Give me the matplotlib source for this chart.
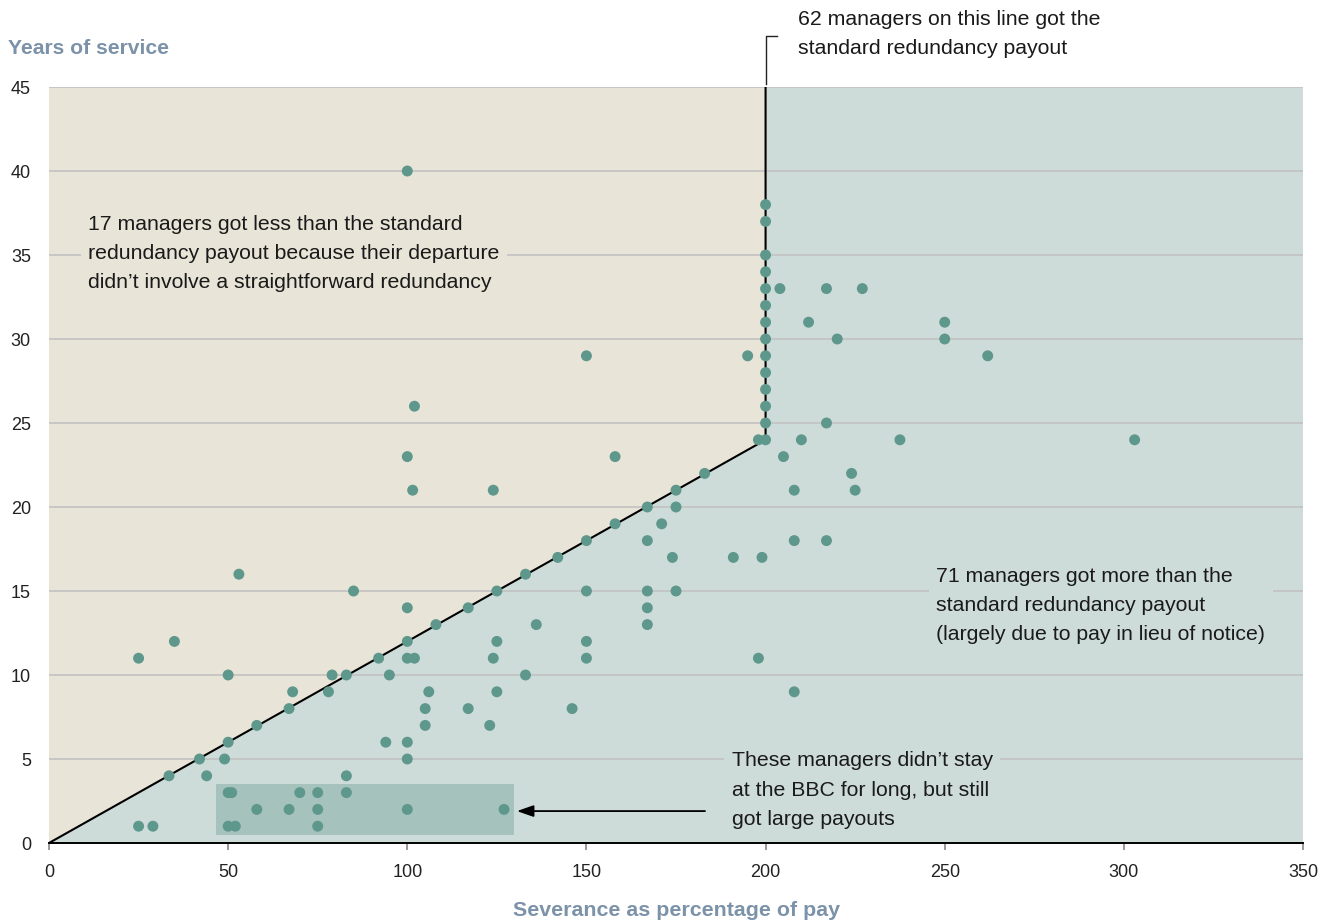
import matplotlib
matplotlib.use("Agg")
import matplotlib.pyplot as plt
from matplotlib.patches import Polygon, Rectangle

plt.rcParams['font.family'] = ['Liberation Sans', 'DejaVu Sans']

# ---- data ----
severance_pct = [
    100, 53, 85, 35, 25, 50, 100, 101.5, 102, 150, 158, 124, 195, 198, 68, 79, 100,
    200, 200, 200, 200, 200, 200, 200, 200, 200, 200, 200, 200, 200, 200,
    33.5, 42, 50, 58, 67, 83, 92, 100, 108, 117, 125, 133, 142, 150, 158, 167, 175, 183,
    25, 29, 50, 52, 75, 58, 67, 75, 100, 127, 50, 51, 70, 75, 83, 44, 83, 49, 100,
    94, 100, 105, 123, 105, 117, 146, 78, 106, 125, 208, 95, 133,
    100, 102, 124, 150, 198, 125, 150, 136, 167, 167, 150, 167, 175,
    174, 191, 199, 167, 208, 217, 171, 175, 208, 225, 224, 205,
    210, 237.5, 303, 217, 220, 250, 212, 250, 204, 217, 227, 262,
]
years_service = [
    40, 16, 15, 12, 11, 10, 23, 21, 26, 29, 23, 21, 29, 24, 9, 10, 14,
    38, 37, 35, 34, 33, 32, 31, 30, 29, 28, 27, 26, 25, 24,
    4, 5, 6, 7, 8, 10, 11, 12, 13, 14, 15, 16, 17, 18, 19, 20, 21, 22,
    1, 1, 1, 1, 1, 2, 2, 2, 2, 2, 3, 3, 3, 3, 3, 4, 4, 5, 5,
    6, 6, 7, 7, 8, 8, 8, 9, 9, 9, 9, 10, 10,
    11, 11, 11, 11, 11, 12, 12, 13, 13, 14, 15, 15, 15,
    17, 17, 17, 18, 18, 18, 19, 20, 21, 21, 22, 23,
    24, 24, 24, 25, 30, 30, 31, 31, 33, 33, 33, 29,
]
# standard redundancy rule: years -> percentage (capped)
rule_pct = [0, 200, 200]
rule_years = [0, 24, 45]

x_ticks = [0, 50, 100, 150, 200, 250, 300, 350]
y_ticks = [0, 5, 10, 15, 20, 25, 30, 35, 40, 45]

# highlighted group (short stay, large payout)
hl_x0, hl_x1, hl_y0, hl_y1 = 46.6, 129.8, 0.45, 3.5

BEIGE = '#E8E4D7'
TEAL_BG = '#CEDCD9'
DOT = '#5E978C'
HL = '#A6C2BC'
LABEL = '#7B92A9'
TXT = '#1a1a1a'

fig = plt.figure(figsize=(13.32, 9.24), dpi=100)
ax = fig.add_axes([49/1332, 81/924, (1303-49)/1332, (843-87)/924])
ax.set_xlim(x_ticks[0], x_ticks[-1])
ax.set_ylim(y_ticks[0], y_ticks[-1])

xmax, ymax = x_ticks[-1], y_ticks[-1]
# background regions
ax.add_patch(Polygon([(0, 0), (rule_pct[1], rule_years[1]), (rule_pct[2], rule_years[2]), (0, ymax)],
                     closed=True, facecolor=BEIGE, edgecolor='none', zorder=0))
ax.add_patch(Polygon([(0, 0), (rule_pct[1], rule_years[1]), (rule_pct[2], rule_years[2]), (xmax, ymax), (xmax, 0)],
                     closed=True, facecolor=TEAL_BG, edgecolor='none', zorder=0))

ax.set_axisbelow(True)
ax.set_yticks(y_ticks)
ax.set_xticks(x_ticks)
ax.grid(axis='y', color='#C2C2C2', linewidth=1.2)
ax.grid(axis='x', visible=False)

for s in ['left', 'right', 'top']:
    ax.spines[s].set_visible(False)
ax.spines['bottom'].set_color('black')
ax.spines['bottom'].set_linewidth(1.4)
ax.spines['bottom'].set_zorder(5)

ax.tick_params(axis='y', length=0, pad=13, labelsize=13, labelcolor='#222222')
ax.tick_params(axis='x', length=5, width=1.2, color='#888888', pad=10, labelsize=13, labelcolor='#222222')

# highlight rectangle
ax.add_patch(Rectangle((hl_x0, hl_y0), hl_x1 - hl_x0, hl_y1 - hl_y0, facecolor=HL, edgecolor='none', zorder=2))

# rule line
ax.plot(rule_pct, rule_years, color='black', linewidth=1.5, zorder=3, solid_joinstyle='miter')

# points
ax.scatter(severance_pct, years_service, s=62, color=DOT, edgecolors='none', zorder=4)

fs = 15.3
ls = 1.68
ax.text(10.9, 35.1, "17 managers got less than the standard\nredundancy payout because their departure\ndidn\u2019t involve a straightforward redundancy",
        fontsize=fs, color=TXT, ha='left', va='center', linespacing=ls, zorder=3,
        bbox=dict(boxstyle='square,pad=0.35', facecolor=BEIGE, edgecolor='none'))
ax.text(247.6, 14.15, "71 managers got more than the\nstandard redundancy payout\n(largely due to pay in lieu of notice)",
        fontsize=fs, color=TXT, ha='left', va='center', linespacing=ls, zorder=3,
        bbox=dict(boxstyle='square,pad=0.35', facecolor=TEAL_BG, edgecolor='none'))
ax.text(190.6, 3.15, "These managers didn\u2019t stay\nat the BBC for long, but still\ngot large payouts",
        fontsize=fs, color=TXT, ha='left', va='center', linespacing=ls, zorder=3,
        bbox=dict(boxstyle='square,pad=0.35', facecolor=TEAL_BG, edgecolor='none'))
ax.text(209, 48.15, "62 managers on this line got the\nstandard redundancy payout",
        fontsize=fs, color=TXT, ha='left', va='center', linespacing=ls, clip_on=False)

# connector for top annotation
ax.plot([200, 200, 203.2], [45.2, 48.05, 48.05], color='#222222', linewidth=1.0, clip_on=False, zorder=5)

# arrow
ax.annotate('', xy=(130.6, 1.9), xytext=(183.1, 1.9),
            arrowprops=dict(arrowstyle='-|>,head_length=1.0,head_width=0.35', color='black', lw=1.3,
                            shrinkA=0, shrinkB=0), zorder=5)

fig.text(8/1332, 1 - 48/924, "Years of service", fontsize=15.2, fontweight='bold', color=LABEL, ha='left', va='center')
fig.text(677/1332, 1 - 910/924, "Severance as percentage of pay", fontsize=15.4, fontweight='bold', color=LABEL, ha='center', va='center')

fig.savefig('out.png', dpi=100)
